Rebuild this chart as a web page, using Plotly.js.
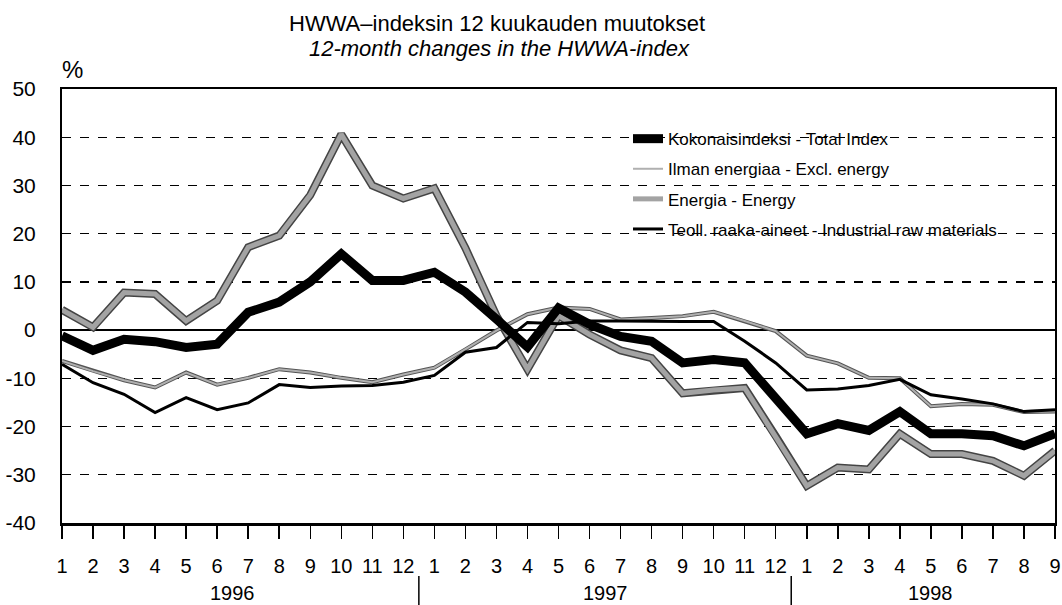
<!DOCTYPE html>
<html>
<head>
<meta charset="utf-8">
<script src="https://cdn.plot.ly/plotly-3.0.1.min.js"></script>
<style>html,body{margin:0;padding:0;background:#fff;}#chart{width:1062px;height:605px;}</style>
</head>
<body>
<div id="chart"></div>
<script>
// Month labels Jan 1996 .. Sep 1998
const monthLabels = ["1","2","3","4","5","6","7","8","9","10","11","12",
                     "1","2","3","4","5","6","7","8","9","10","11","12",
                     "1","2","3","4","5","6","7","8","9"];
const years = ["1996","1997","1998"];
const yTickVals = [-40,-30,-20,-10,0,10,20,30,40,50];
const yTickText = ["-40","-30","-20","-10","0","10","20","30","40","50"];

// 12-month changes, %
const totalIndex = [-1.2,-4.2,-1.9,-2.4,-3.6,-2.9,3.7,5.8,10.0,15.8,10.3,10.3,
                    12.0,7.9,2.3,-3.5,4.6,1.2,-1.3,-2.3,-6.8,-6.1,-6.8,-14.5,
                    -21.5,-19.4,-20.8,-16.9,-21.5,-21.5,-21.9,-24.0,-21.5];
const exclEnergy = [-6.4,-8.5,-10.4,-11.9,-8.8,-11.3,-9.9,-8.1,-8.8,-9.9,-10.8,-9.2,
                    -7.8,-4.0,-0.1,3.3,4.7,4.4,2.2,2.5,2.9,3.8,1.9,-0.2,
                    -5.3,-6.9,-9.9,-10.0,-15.8,-15.3,-15.5,-17.0,-16.9];
const energy     = [4.2,0.6,7.8,7.5,1.9,6.1,17.2,19.6,28.0,40.6,30.0,27.3,
                    29.4,17.0,3.0,-8.1,3.0,-0.9,-4.2,-5.8,-13.1,-12.4,-12.0,-22.0,
                    -32.3,-28.5,-28.9,-21.5,-25.7,-25.7,-27.1,-30.2,-25.0];
const industrial = [-7.1,-10.9,-13.3,-17.1,-14.0,-16.5,-15.1,-11.3,-11.9,-11.6,-11.5,-10.8,
                    -9.4,-4.6,-3.6,1.6,1.3,1.9,1.9,1.8,1.8,1.8,-2.3,-6.8,
                    -12.4,-12.2,-11.5,-10.2,-13.4,-14.3,-15.3,-16.9,-16.5];

const names = ["Kokonaisindeksi - Total Index",
               "Ilman energiaa - Excl. energy",
               "Energia - Energy",
               "Teoll. raaka-aineet - Industrial raw materials"];

const xs = monthLabels.map((_, i) => i);

const traces = [
  {x: xs, y: energy, mode: "lines", line: {color: "#444", width: 8}, hoverinfo: "skip",
   showlegend: false, legendgroup: "g3"},
  {x: xs, y: energy, mode: "lines", name: names[2], line: {color: "#a3a3a3", width: 5},
   legendgroup: "g3", legendrank: 3},
  {x: xs, y: exclEnergy, mode: "lines", line: {color: "#555", width: 4}, hoverinfo: "skip",
   showlegend: false, legendgroup: "g2"},
  {x: xs, y: exclEnergy, mode: "lines", name: names[1], line: {color: "#b0b0b0", width: 2},
   legendgroup: "g2", legendrank: 2},
  {x: xs, y: industrial, mode: "lines", name: names[3], line: {color: "#000", width: 3},
   legendgroup: "g4", legendrank: 4},
  {x: xs, y: totalIndex, mode: "lines", name: names[0], line: {color: "#000", width: 9},
   legendgroup: "g1", legendrank: 1}
];

const font = "Liberation Sans, Arial, sans-serif";

const layout = {
  width: 1062, height: 605,
  margin: {l: 62, r: 7, t: 89, b: 82},
  paper_bgcolor: "#fff", plot_bgcolor: "#fff",
  font: {family: font, color: "#000", size: 20},
  showlegend: true,
  legend: {
    x: 0.570, y: 0.926, xanchor: "left", yanchor: "top",
    bgcolor: "rgba(0,0,0,0)", borderwidth: 0,
    font: {family: font, size: 17, color: "#000"},
    traceorder: "grouped", tracegroupgap: 5
  },
  title: {text: ""},
  xaxis: {
    range: [0, 32], tickmode: "array", tickvals: xs, ticktext: monthLabels,
    showgrid: false, zeroline: false,
    showline: true, linecolor: "#000", linewidth: 2.5, mirror: true,
    ticks: "outside", ticklen: 13, tickwidth: 1.5, tickcolor: "#000",
    tickfont: {size: 20}, ticklabelstandoff: 10, fixedrange: true
  },
  yaxis: {
    range: [-40, 50], tickmode: "array", tickvals: yTickVals, ticktext: yTickText,
    showgrid: true, gridcolor: "#000", gridwidth: 1.3, griddash: "dash",
    zeroline: true, zerolinecolor: "#000", zerolinewidth: 2,
    showline: true, linecolor: "#000", linewidth: 2, mirror: true,
    ticks: "", tickfont: {size: 21}, ticklabelstandoff: 20, fixedrange: true
  },
  annotations: [
    {text: "HWWA–indeksin 12 kuukauden muutokset", xref: "paper", yref: "paper",
     x: 0.2266, y: 1.152, xanchor: "left", yanchor: "middle", showarrow: false,
     font: {size: 22}},
    {text: "<i>12-month changes in the HWWA-index</i>", xref: "paper", yref: "paper",
     x: 0.2467, y: 1.0925, xanchor: "left", yanchor: "middle", showarrow: false,
     font: {size: 22}},
    {text: "%", xref: "paper", yref: "paper", x: 0.011, y: 1.044,
     xanchor: "center", yanchor: "middle", showarrow: false, font: {size: 24}},
    {text: years[0], xref: "x", yref: "paper", x: 5.5, y: -0.162, xanchor: "center",
     yanchor: "middle", showarrow: false, font: {size: 20}},
    {text: years[1], xref: "x", yref: "paper", x: 17.5, y: -0.162, xanchor: "center",
     yanchor: "middle", showarrow: false, font: {size: 20}},
    {text: years[2], xref: "x", yref: "paper", x: 28, y: -0.162, xanchor: "center",
     yanchor: "middle", showarrow: false, font: {size: 20}}
  ],
  shapes: [
    {type: "line", xref: "x", yref: "paper", x0: 11.5, x1: 11.5, y0: -0.122, y1: -0.19,
     line: {color: "#000", width: 1.5}},
    {type: "line", xref: "x", yref: "paper", x0: 23.5, x1: 23.5, y0: -0.122, y1: -0.19,
     line: {color: "#000", width: 1.5}}
  ]
};

Plotly.newPlot("chart", traces, layout, {displayModeBar: false, staticPlot: true});
</script>
</body>
</html>
